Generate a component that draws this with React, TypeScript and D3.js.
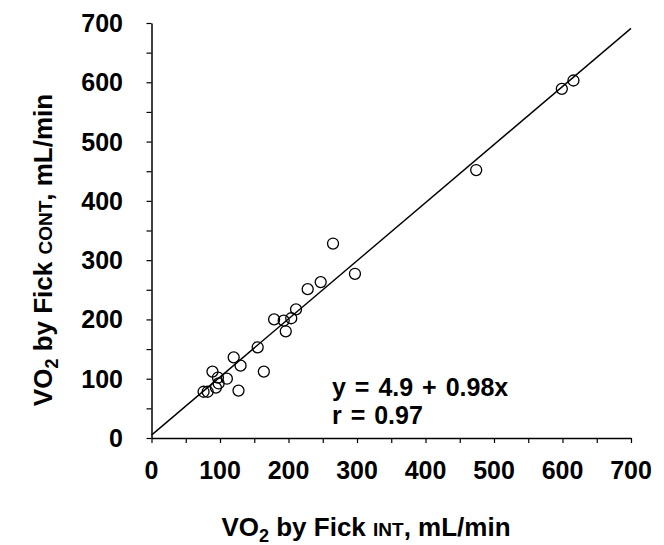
import * as d3 from 'd3'
import { useRef, useEffect } from 'react'

// VO2 by Fick INT (x) vs VO2 by Fick CONT (y), mL/min
const fickInt = [76, 82, 89, 94, 97, 98, 110, 120, 127, 130, 155, 164, 179, 193, 196, 204, 211, 228, 247, 265, 297, 474, 599, 616]
const fickCont = [78, 78, 112, 85, 102, 92, 100, 136, 80, 122, 153, 112, 200, 198, 180, 202, 217, 251, 263, 328, 277, 452, 589, 603]
const tickValues = [0, 100, 200, 300, 400, 500, 600, 700]
const minorTicks = d3.range(0, 701, 50)
const fitLine = { intercept: 4.9, slope: 0.98 }
const fitText = ['y = 4.9 + 0.98x', 'r = 0.97']

const App = () => {
  const chartRef = useRef<SVGSVGElement>(null)

  useEffect(() => {
    drawChart()
  }, [])

  const drawChart = () => {
    const font = "'Liberation Sans', Arial, sans-serif"
    const svg = d3.select(chartRef.current)
    svg.selectAll('*').remove()

    const x = d3.scaleLinear().domain([0, 700]).range([151.5, 631])
    const y = d3.scaleLinear().domain([0, 700]).range([438, 23])

    // x axis
    const xAxis = svg
      .append('g')
      .attr('transform', 'translate(0,' + y(0) + ')')
      .call(d3.axisBottom(x).tickValues(minorTicks).tickSize(5).tickSizeOuter(0).tickFormat(() => ''))
    xAxis.select('.domain').attr('stroke-width', 1.5)
    xAxis.selectAll('.tick line').attr('stroke-width', 1.2)
    svg
      .append('g')
      .selectAll('text')
      .data(tickValues)
      .enter()
      .append('text')
      .attr('x', (d) => x(d))
      .attr('y', 479)
      .attr('text-anchor', 'middle')
      .attr('font-family', font)
      .attr('font-weight', 'bold')
      .attr('font-size', 25)
      .text((d) => d)

    // y axis
    const yAxis = svg
      .append('g')
      .attr('transform', 'translate(' + x(0) + ',0)')
      .call(d3.axisLeft(y).tickValues(minorTicks).tickSize(5).tickSizeOuter(0).tickFormat(() => ''))
    yAxis.select('.domain').attr('stroke-width', 1.5)
    yAxis.selectAll('.tick line').attr('stroke-width', 1.2)
    svg
      .append('g')
      .selectAll('text')
      .data(tickValues)
      .enter()
      .append('text')
      .attr('x', 123)
      .attr('y', (d) => y(d) + 9)
      .attr('text-anchor', 'end')
      .attr('font-family', font)
      .attr('font-weight', 'bold')
      .attr('font-size', 25)
      .text((d) => d)

    // regression line
    const line = d3
      .line<number>()
      .x((d) => x(d))
      .y((d) => y(fitLine.intercept + fitLine.slope * d))
    svg
      .append('path')
      .datum([0, 700])
      .attr('d', line)
      .attr('fill', 'none')
      .attr('stroke', '#000')
      .attr('stroke-width', 1.4)

    // points
    svg
      .append('g')
      .selectAll('circle')
      .data(fickInt)
      .enter()
      .append('circle')
      .attr('cx', (d) => x(d))
      .attr('cy', (d, i) => y(fickCont[i]))
      .attr('r', 5.5)
      .attr('fill', 'none')
      .attr('stroke', '#000')
      .attr('stroke-width', 1.3)

    // equation
    svg
      .append('g')
      .selectAll('text')
      .data(fitText)
      .enter()
      .append('text')
      .attr('x', 332)
      .attr('y', (d, i) => 396 + i * 28)
      .attr('font-family', font)
      .attr('font-weight', 'bold')
      .attr('font-size', 25)
      .attr('word-spacing', 2)
      .text((d) => d)

    // x title
    const xt = svg
      .append('text')
      .attr('x', 366)
      .attr('y', 536)
      .attr('text-anchor', 'middle')
      .attr('font-family', font)
      .attr('font-weight', 'bold')
      .attr('font-size', 26)
    xt.append('tspan').text('VO')
    xt.append('tspan').attr('font-size', 18).attr('dy', 6).text('2')
    xt.append('tspan').attr('dy', -6).text(' by Fick ')
    xt.append('tspan').attr('font-size', 19).text('INT')
    xt.append('tspan').text(', mL/min')

    // y title
    const yt = svg
      .append('text')
      .attr('transform', 'translate(52,250) rotate(-90)')
      .attr('text-anchor', 'middle')
      .attr('font-family', font)
      .attr('font-weight', 'bold')
      .attr('font-size', 26)
    yt.append('tspan').text('VO')
    yt.append('tspan').attr('font-size', 18).attr('dy', 6).text('2')
    yt.append('tspan').attr('dy', -6).text(' by Fick ')
    yt.append('tspan').attr('font-size', 19).text('CONT')
    yt.append('tspan').text(', mL/min')
  }

  return (
    <div style={{ position: 'absolute', left: 0, top: 0 }}>
      <svg ref={chartRef} width={664} height={545} style={{ display: 'block', background: '#fff' }}></svg>
    </div>
  )
}

export default App
